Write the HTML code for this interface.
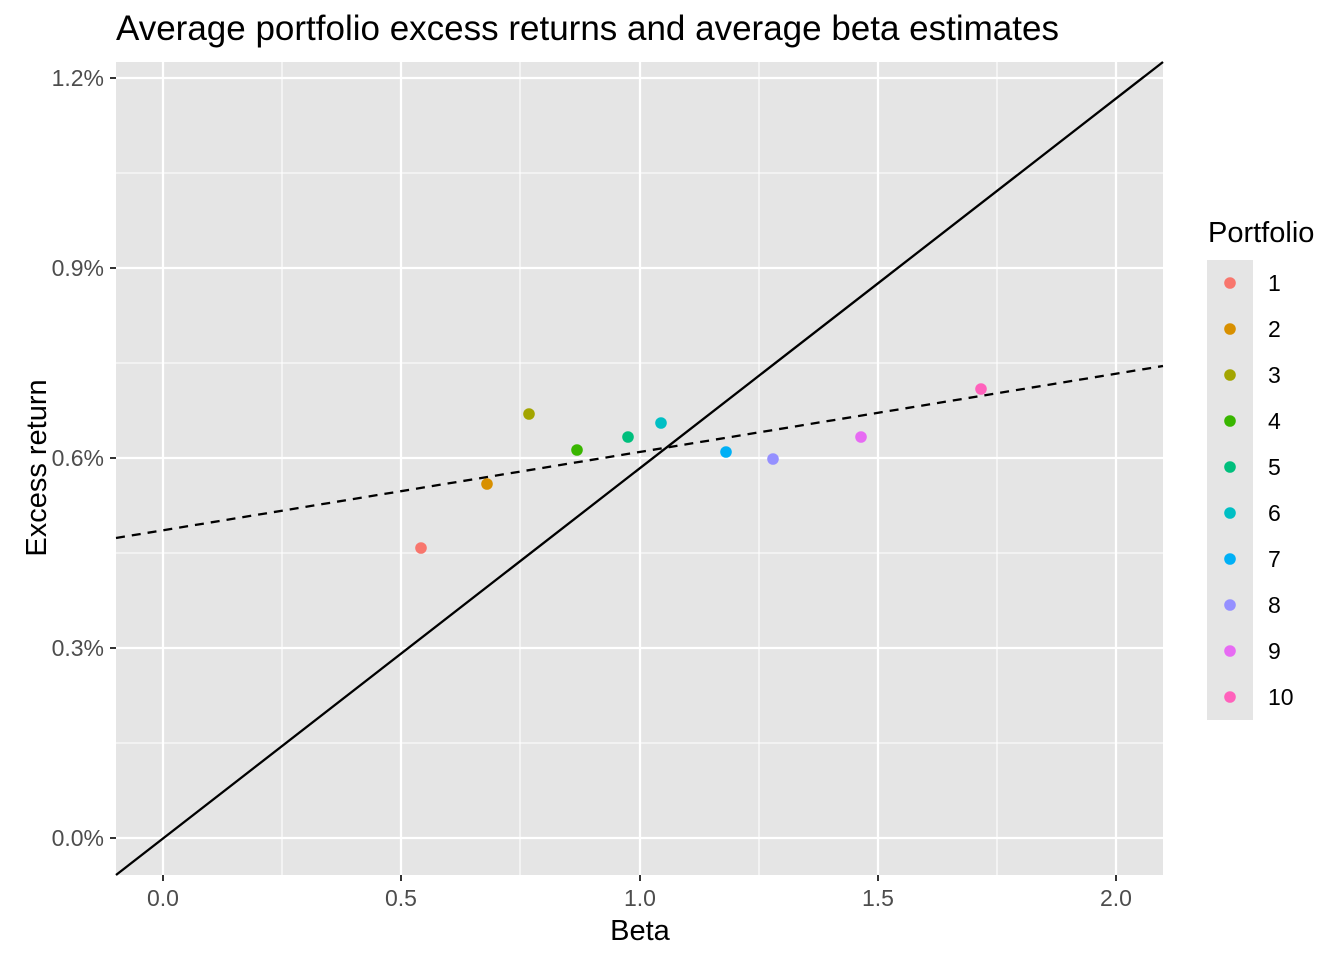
<!DOCTYPE html>
<html><head><style>body{margin:0;background:#fff}svg{display:block}text{font-family:"Liberation Sans",Arial,sans-serif}</style></head><body>
<svg width="1344" height="960" viewBox="0 0 1344 960">
<rect x="0" y="0" width="1344" height="960" fill="#fff"/>
<rect x="116" y="62" width="1047" height="813" fill="#E5E5E5"/>
<g stroke="#fff" stroke-width="1.1">
<line x1="116" x2="1163" y1="173" y2="173"/><line x1="116" x2="1163" y1="363" y2="363"/><line x1="116" x2="1163" y1="553" y2="553"/><line x1="116" x2="1163" y1="743" y2="743"/>
<line x1="282" x2="282" y1="62" y2="875"/><line x1="520" x2="520" y1="62" y2="875"/><line x1="759" x2="759" y1="62" y2="875"/><line x1="997" x2="997" y1="62" y2="875"/>
</g>
<g stroke="#fff" stroke-width="2.2">
<line x1="116" x2="1163" y1="78" y2="78"/><line x1="116" x2="1163" y1="268" y2="268"/><line x1="116" x2="1163" y1="458" y2="458"/><line x1="116" x2="1163" y1="648" y2="648"/><line x1="116" x2="1163" y1="838" y2="838"/>
<line x1="163" x2="163" y1="62" y2="875"/><line x1="401" x2="401" y1="62" y2="875"/><line x1="640" x2="640" y1="62" y2="875"/><line x1="878" x2="878" y1="62" y2="875"/><line x1="1116" x2="1116" y1="62" y2="875"/>
</g>
<line x1="116" y1="875" x2="1163" y2="62" stroke="#000" stroke-width="2.3"/>
<line x1="116" y1="538" x2="1163" y2="366" stroke="#000" stroke-width="2.3" stroke-dasharray="9,7"/>
<g>
<circle cx="421" cy="548" r="5.8" fill="#F8766D"/>
<circle cx="487" cy="484" r="5.8" fill="#D89000"/>
<circle cx="529" cy="414" r="5.8" fill="#A3A500"/>
<circle cx="577" cy="450" r="5.8" fill="#39B600"/>
<circle cx="628" cy="437" r="5.8" fill="#00BF7D"/>
<circle cx="661" cy="423" r="5.8" fill="#00BFC4"/>
<circle cx="726" cy="452" r="5.8" fill="#00B0F6"/>
<circle cx="773" cy="459" r="5.8" fill="#9590FF"/>
<circle cx="861" cy="437" r="5.8" fill="#E76BF3"/>
<circle cx="981" cy="389" r="5.8" fill="#FF62BC"/>
</g>
<g stroke="#333" stroke-width="2">
<line x1="110" x2="116" y1="78" y2="78"/><line x1="110" x2="116" y1="268" y2="268"/><line x1="110" x2="116" y1="458" y2="458"/><line x1="110" x2="116" y1="648" y2="648"/><line x1="110" x2="116" y1="838" y2="838"/>
<line x1="163" x2="163" y1="875" y2="881"/><line x1="401" x2="401" y1="875" y2="881"/><line x1="640" x2="640" y1="875" y2="881"/><line x1="878" x2="878" y1="875" y2="881"/><line x1="1116" x2="1116" y1="875" y2="881"/>
</g>
<g font-size="23" fill="#4D4D4D" text-anchor="end">
<text x="104" y="86">1.2%</text><text x="104" y="276">0.9%</text><text x="104" y="466">0.6%</text><text x="104" y="656">0.3%</text><text x="104" y="846">0.0%</text>
</g>
<g font-size="23" fill="#4D4D4D" text-anchor="middle">
<text x="163" y="906">0.0</text><text x="401" y="906">0.5</text><text x="640" y="906">1.0</text><text x="878" y="906">1.5</text><text x="1116" y="906">2.0</text>
</g>
<text x="640" y="940" font-size="29" text-anchor="middle">Beta</text>
<text x="46" y="468" font-size="29" text-anchor="middle" transform="rotate(-90 46 468)">Excess return</text>
<text x="116" y="40" font-size="35">Average portfolio excess returns and average beta estimates</text>
<text x="1208" y="242" font-size="29">Portfolio</text>
<rect x="1207" y="260" width="46" height="460" fill="#E5E5E5"/>
<g font-size="23">
<circle cx="1230" cy="283" r="5.8" fill="#F8766D"/><text x="1268" y="291">1</text>
<circle cx="1230" cy="329" r="5.8" fill="#D89000"/><text x="1268" y="337">2</text>
<circle cx="1230" cy="375" r="5.8" fill="#A3A500"/><text x="1268" y="383">3</text>
<circle cx="1230" cy="421" r="5.8" fill="#39B600"/><text x="1268" y="429">4</text>
<circle cx="1230" cy="467" r="5.8" fill="#00BF7D"/><text x="1268" y="475">5</text>
<circle cx="1230" cy="513" r="5.8" fill="#00BFC4"/><text x="1268" y="521">6</text>
<circle cx="1230" cy="559" r="5.8" fill="#00B0F6"/><text x="1268" y="567">7</text>
<circle cx="1230" cy="605" r="5.8" fill="#9590FF"/><text x="1268" y="613">8</text>
<circle cx="1230" cy="651" r="5.8" fill="#E76BF3"/><text x="1268" y="659">9</text>
<circle cx="1230" cy="697" r="5.8" fill="#FF62BC"/><text x="1268" y="705">10</text>
</g>
</svg>
</body></html>
